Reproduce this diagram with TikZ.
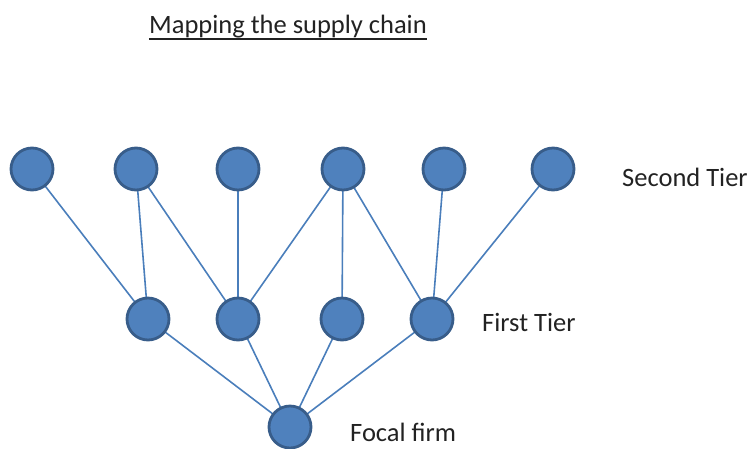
\documentclass[tikz,border=0pt]{standalone}
\usepackage{fontspec}
\setmainfont{Carlito}
\usetikzlibrary{backgrounds}
\definecolor{firmfill}{HTML}{4F81BD}
\definecolor{firmedge}{HTML}{385D8A}
\definecolor{linkblue}{HTML}{4A7EBB}
\definecolor{inkgray}{HTML}{222222}
\begin{document}
\begin{tikzpicture}[
            x = 1pt, y = -1pt,
            firm/.style={circle, fill=firmfill, draw=firmedge, line width=2.8pt, minimum size=42pt, inner sep=0pt},
            link/.style={draw=linkblue, line width = 1.6pt},
            label/.style={anchor=base west, text=inkgray, font=\fontsize{26.5}{30}\selectfont, inner sep=0pt},
            ]
        \useasboundingbox (0, 0) rectangle (750, 448);

        \node[label, anchor=base] (title) at (288, 33) {Mapping the supply chain};
        \draw[inkgray, line width=2pt] ([yshift=-6pt]title.base west) -- ([yshift=-6pt]title.base east);

        \foreach \x/\n in {32/0, 136/1, 238/2, 343/3, 444/4, 553/5}
            \node[firm] (s\n) at (\x, 169) {};

        \foreach \x/\n in {148/0, 238/1, 342/2, 432/3}
            \node[firm] (f\n) at (\x, 319) {};

        \node[firm] (focal) at (290, 427) {};

        \node[label] (second) at (622, 186) {Second Tier};
        \node[label] (first) at (482, 331) {First Tier};
        \node[label] (focallabel) at (350, 441) {Focal firm};

        \begin{scope}[on background layer]
            \foreach \a/\b in {s0/f0, s1/f0, s1/f1, s2/f1, s3/f1, s3/f2, s3/f3, s4/f3, s5/f3}
                \draw[link] (\a.center) -- (\b.center);
            \foreach \b in {f0, f1, f2, f3}
                \draw[link] (\b.center) -- (focal.center);
        \end{scope}
    \end{tikzpicture}
\end{document}
